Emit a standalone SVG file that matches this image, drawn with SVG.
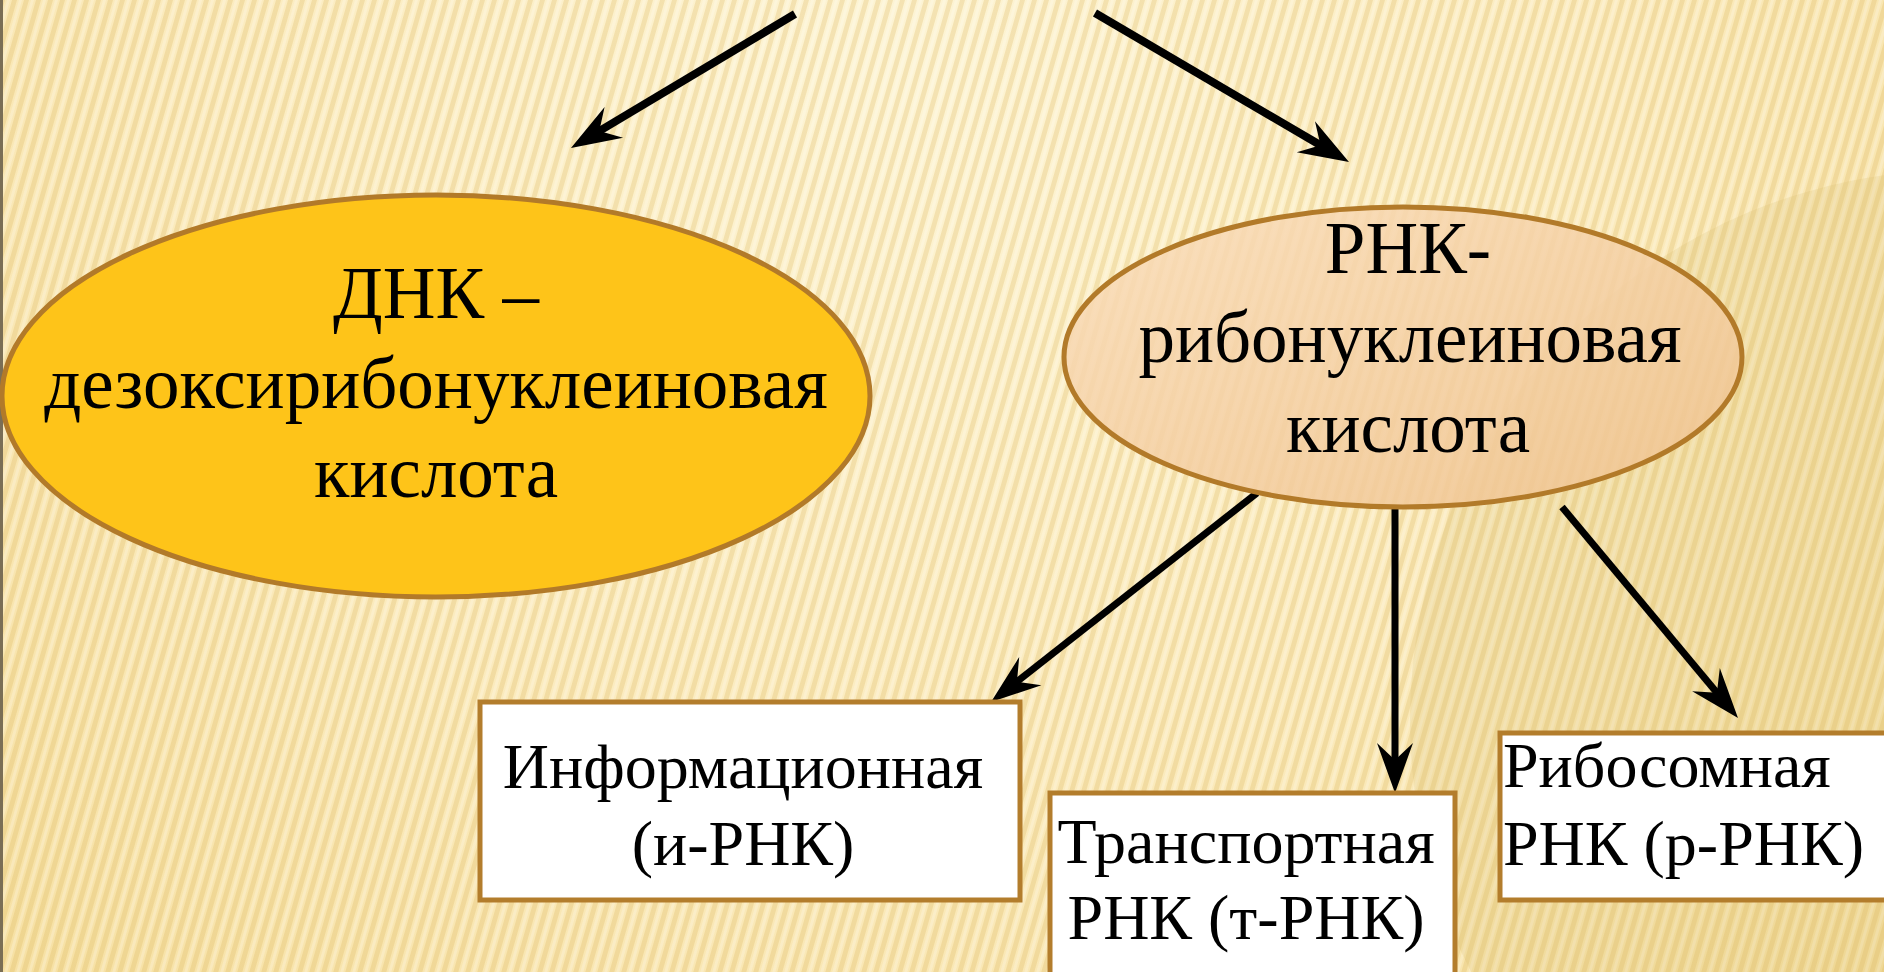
<svg xmlns="http://www.w3.org/2000/svg" width="1884" height="972" viewBox="0 0 1884 972">
<style>
.big{font-size:73px}
.small{font-size:64px}
.box{fill:#fff;stroke:#B37D2C;stroke-width:5}
.arrow{stroke:#000;fill:none}
</style>
<defs>
<radialGradient id="bg" cx="900" cy="60" r="1300" gradientUnits="userSpaceOnUse">
<stop offset="0" stop-color="#FDF4D4"/>
<stop offset="0.55" stop-color="#FBEBBE"/>
<stop offset="1" stop-color="#F6E0A2"/>
</radialGradient>
<pattern id="stripes" width="12" height="40" patternUnits="userSpaceOnUse" patternTransform="skewX(-16)">
<rect x="0" y="0" width="5" height="40" fill="#D6B055" opacity="0.26"/>
<rect x="7" y="0" width="3" height="40" fill="#FFFFFF" opacity="0.22"/>
</pattern>
<linearGradient id="rnaFill" x1="0" y1="0" x2="1" y2="1">
<stop offset="0" stop-color="#FADDBB" stop-opacity="0.85"/>
<stop offset="1" stop-color="#EFC28E" stop-opacity="0.85"/>
</linearGradient>
<marker id="ah" markerUnits="userSpaceOnUse" markerWidth="120" markerHeight="120" refX="0" refY="0" viewBox="-60 -60 120 120" orient="auto" overflow="visible">
<path d="M30,0 L-20,-18 L-3,0 L-20,18 Z" fill="#000"/>
</marker>
</defs>
<g id="background">
<rect width="1884" height="972" fill="url(#bg)"/>
<rect width="1884" height="972" fill="url(#stripes)"/>
<circle cx="1960" cy="720" r="550" fill="#D2B865" opacity="0.18"/>
<rect x="0" y="0" width="3" height="972" fill="#7A6E55"/>
</g>
<g id="connectors">
<line class="arrow" x1="795" y1="14" x2="596.7" y2="132.6" stroke-width="8" marker-end="url(#ah)"/>
<line class="arrow" x1="1095" y1="13" x2="1323.1" y2="146.8" stroke-width="8" marker-end="url(#ah)"/>
<line class="arrow" x1="1257" y1="493" x2="1014.6" y2="683.5" stroke-width="7" marker-end="url(#ah)"/>
<line class="arrow" x1="1395" y1="509" x2="1395" y2="763" stroke-width="7" marker-end="url(#ah)"/>
<line class="arrow" x1="1562" y1="507" x2="1718.8" y2="695" stroke-width="7" marker-end="url(#ah)"/>
</g>
<g font-family="'Liberation Serif', 'Times New Roman', 'DejaVu Serif', serif" fill="#000">
<g id="node-dna">
<ellipse cx="436" cy="396" rx="434" ry="201" fill="#FEC419" stroke="#B27A29" stroke-width="5"/>
<text class="big" text-anchor="middle" x="436" y="318">ДНК –</text>
<text class="big" text-anchor="middle" x="436" y="408">дезоксирибонуклеиновая</text>
<text class="big" text-anchor="middle" x="436" y="497">кислота</text>
</g>
<g id="node-rna">
<ellipse cx="1403" cy="357" rx="339" ry="150" fill="url(#rnaFill)" stroke="#B27A29" stroke-width="5"/>
<text class="big" text-anchor="middle" x="1408" y="273">РНК-</text>
<text class="big" text-anchor="middle" x="1410" y="362">рибонуклеиновая</text>
<text class="big" text-anchor="middle" x="1408" y="452">кислота</text>
</g>
<g id="node-irna">
<rect class="box" x="480" y="702" width="540" height="198"/>
<text class="small" text-anchor="middle" x="743" y="788">Информационная</text>
<text class="small" text-anchor="middle" x="743" y="865">(и-РНК)</text>
</g>
<g id="node-trna">
<rect class="box" x="1050" y="793" width="405" height="200"/>
<text class="small" text-anchor="middle" x="1246" y="863">Транспортная</text>
<text class="small" text-anchor="middle" x="1246" y="939">РНК (т-РНК)</text>
</g>
<g id="node-rrna">
<rect class="box" x="1500" y="733" width="420" height="167"/>
<text class="small" x="1503" y="787">Рибосомная</text>
<text class="small" x="1503" y="865">РНК (р-РНК)</text>
</g>
</g>
</svg>
